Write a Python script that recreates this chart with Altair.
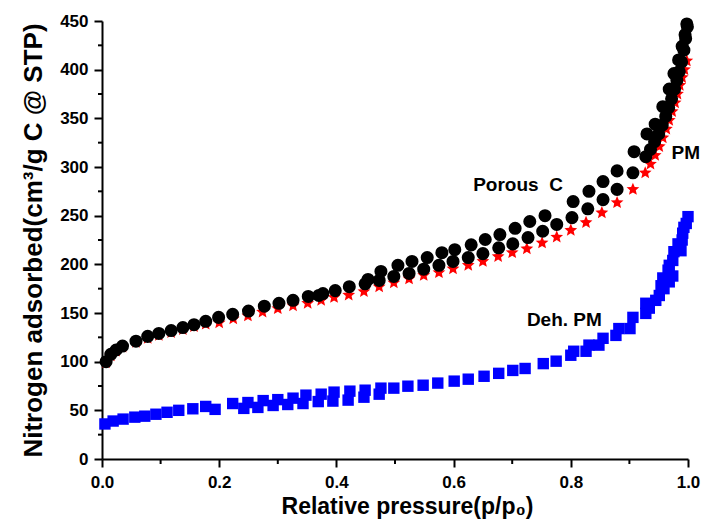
import altair as alt
import pandas as pd

# ---- Porous C (black circles): adsorption + desorption branches ----
porous_x = [0.007, 0.015, 0.024, 0.035, 0.058, 0.078, 0.097, 0.118, 0.138, 0.157,
            0.177, 0.199, 0.223, 0.250, 0.277, 0.302, 0.326, 0.352, 0.370, 0.377,
            0.398, 0.422, 0.449, 0.473, 0.498, 0.524, 0.549, 0.575, 0.599, 0.625,
            0.650, 0.677, 0.701, 0.727, 0.752, 0.776, 0.802, 0.829, 0.855, 0.879,
            0.906, 0.928, 0.936, 0.943, 0.950, 0.956, 0.962, 0.967, 0.972, 0.977,
            0.981, 0.985, 0.989, 0.993, 0.996, 0.999,
            0.454, 0.476, 0.505, 0.529, 0.555, 0.580, 0.602, 0.630, 0.654, 0.679,
            0.705, 0.730, 0.756, 0.804, 0.831, 0.855, 0.879, 0.908, 0.930, 0.944,
            0.957, 0.968, 0.976, 0.984, 0.990, 0.995, 0.998]
porous_y = [100, 107.6, 112, 116, 121, 126, 129, 132, 135, 138,
            141.5, 145.5, 148.6, 152, 157, 160, 163, 167, 168, 170,
            173, 177, 180, 183.5, 187.6, 190.6, 195, 199, 203, 207,
            211, 217, 221, 227.5, 234, 241, 248, 257, 266.5, 277,
            294, 310.6, 318, 326, 334, 343, 352, 361, 370, 380,
            389, 398, 408, 420, 432, 444,
            184.5, 192.7, 199, 203, 207, 212, 215, 220, 225.5, 230.6,
            237, 244, 250, 264.5, 275, 285, 296, 315.7, 334, 344,
            362, 380, 396, 410, 424, 436, 447]

# ---- PM (red stars) ----
pm_x = [0.007, 0.015, 0.024, 0.035, 0.058, 0.078, 0.097, 0.118, 0.138, 0.157,
        0.177, 0.200, 0.224, 0.249, 0.274, 0.300, 0.326, 0.351, 0.374, 0.396,
        0.421, 0.447, 0.473, 0.498, 0.524, 0.549, 0.575, 0.599, 0.625, 0.650,
        0.676, 0.700, 0.725, 0.751, 0.776, 0.800, 0.826, 0.853, 0.879, 0.906,
        0.927, 0.936, 0.944, 0.951, 0.957, 0.963, 0.968, 0.973, 0.978, 0.982,
        0.986, 0.990, 0.994, 0.998]
pm_y = [99, 106, 111, 115, 120, 124, 127, 130, 133, 136,
        138.5, 140, 144, 147, 151, 154.5, 157.5, 160, 163, 166,
        168.5, 172, 177, 181, 185, 188.6, 191.5, 195.5, 199, 203,
        208, 212, 216, 222, 228, 235, 243, 253, 263.4, 277,
        294, 303, 312, 321, 330, 339, 348, 357, 366, 375,
        384, 392, 400, 409]

# ---- Deh. PM (blue squares) ----
deh_x = [0.005, 0.019, 0.036, 0.056, 0.073, 0.092, 0.111, 0.131, 0.155, 0.177,
         0.193, 0.223, 0.242, 0.249, 0.266, 0.275, 0.292, 0.300, 0.317, 0.326,
         0.343, 0.348, 0.369, 0.374, 0.394, 0.396, 0.420, 0.423, 0.447, 0.449,
         0.473, 0.476, 0.498, 0.522, 0.548, 0.573, 0.601, 0.625, 0.652, 0.677,
         0.701, 0.722, 0.753, 0.775, 0.800, 0.805, 0.826, 0.831, 0.848, 0.855,
         0.877, 0.882, 0.901, 0.906, 0.928, 0.928, 0.934, 0.945, 0.951, 0.954,
         0.957, 0.959, 0.966, 0.968, 0.968, 0.974, 0.974, 0.976, 0.983, 0.988,
         0.990, 0.991, 0.993, 0.997, 1.000]
deh_y = [36, 39, 41, 43, 44, 46, 48, 50, 51.6, 54,
         51, 57, 52, 58, 53, 60, 55, 61, 56, 62.5,
         57, 65.6, 59, 66.6, 59.5, 68.7, 60.5, 69.7, 63.5, 70.7,
         66.6, 72.8, 72.8, 74.8, 75.8, 78, 80, 82, 85, 88,
         91, 93, 98, 100.5, 106.6, 110.7, 110.7, 117, 117, 124,
         127, 134, 134, 145.5, 149.6, 160, 155, 163, 168, 178,
         186, 175, 194, 182, 199, 188, 204, 213, 221, 214,
         225, 232, 238, 242, 249]

# ---- axis ticks ----
x_major = [0.0, 0.2, 0.4, 0.6, 0.8, 1.0]
x_minor = [0.1, 0.3, 0.5, 0.7, 0.9]
y_major = [0, 50, 100, 150, 200, 250, 300, 350, 400, 450]
y_minor = [25, 75, 125, 175, 225, 275, 325, 375, 425]

# ---- annotation labels ----
label_text = ["Porous\u00a0 C", "Deh. PM", "PM"]
label_x = [0.710, 0.789, 0.972]
label_y = [281, 142.5, 314]
label_align = ["center", "center", "left"]

FONT = "Liberation Sans"
W, H = 586, 438
STAR = ("M0,-1L0.2645,-0.364L0.9511,-0.309L0.428,0.139L0.5878,0.809L0,0.45"
        "L-0.5878,0.809L-0.428,0.139L-0.9511,-0.309L-0.2645,-0.364Z")

df_porous = pd.DataFrame({"x": porous_x, "y": porous_y})
df_pm = pd.DataFrame({"x": pm_x, "y": pm_y})
df_deh = pd.DataFrame({"x": deh_x, "y": deh_y})
df_lab = pd.DataFrame({"x": label_x, "y": label_y, "t": label_text, "a": label_align})
df_xminor = pd.DataFrame({"x": x_minor})
df_yminor = pd.DataFrame({"y": y_minor})

x_scale = alt.Scale(domain=[0, 1], nice=False, zero=False)
y_scale = alt.Scale(domain=[0, 450], nice=False, zero=False)

x_axis = alt.Axis(
    title="Relative pressure(p/p\u2080)", orient="bottom",
    values=x_major, format=".1f", tickSize=8,
    labelFlush=False, labelOverlap=False, grid=False,
    domainColor="black", domainWidth=2, tickColor="black", tickWidth=2,
    labelFont=FONT, labelFontSize=17, labelFontWeight="bold", labelColor="black",
    labelPadding=7,
    titleFont=FONT, titleFontSize=23, titleFontWeight="bold", titleColor="black",
    titlePadding=5, titleX=W / 2 + 12,
)
y_axis = alt.Axis(
    title="Nitrogen adsorbed(cm\u00b3/g C @ STP)", orient="left",
    values=y_major, tickSize=8,
    labelFlush=False, labelOverlap=False, grid=False,
    domainColor="black", domainWidth=2, tickColor="black", tickWidth=2,
    labelFont=FONT, labelFontSize=17, labelFontWeight="bold", labelColor="black",
    labelPadding=6,
    titleFont=FONT, titleFontSize=26, titleFontWeight="bold", titleColor="black",
    titlePadding=13,
)

pm = alt.Chart(df_pm).mark_point(
    shape=STAR, filled=True, color="#ff0000", size=180, opacity=1
).encode(
    x=alt.X("x:Q", scale=x_scale, axis=x_axis),
    y=alt.Y("y:Q", scale=y_scale, axis=y_axis),
)

porous = alt.Chart(df_porous).mark_point(
    shape="circle", filled=True, color="#000000", size=170, opacity=1
).encode(
    x=alt.X("x:Q", scale=x_scale),
    y=alt.Y("y:Q", scale=y_scale),
)

deh = alt.Chart(df_deh).mark_point(
    shape="square", filled=True, color="#0000ff", size=130, opacity=1
).encode(
    x=alt.X("x:Q", scale=x_scale),
    y=alt.Y("y:Q", scale=y_scale),
)

xminor = alt.Chart(df_xminor).mark_rule(color="black", strokeWidth=2).encode(
    x=alt.X("x:Q", scale=x_scale),
    y=alt.value(H), y2=alt.value(H + 5),
)
yminor = alt.Chart(df_yminor).mark_rule(color="black", strokeWidth=2).encode(
    y=alt.Y("y:Q", scale=y_scale),
    x=alt.value(-4), x2=alt.value(0),
)

labels_c = alt.Chart(df_lab[df_lab["a"] == "center"]).mark_text(
    font=FONT, fontSize=19, fontWeight="bold", color="black", align="center", baseline="middle"
).encode(
    x=alt.X("x:Q", scale=x_scale), y=alt.Y("y:Q", scale=y_scale), text="t:N"
)
labels_l = alt.Chart(df_lab[df_lab["a"] == "left"]).mark_text(
    font=FONT, fontSize=19, fontWeight="bold", color="black", align="left", baseline="middle"
).encode(
    x=alt.X("x:Q", scale=x_scale), y=alt.Y("y:Q", scale=y_scale), text="t:N"
)

chart = alt.layer(pm, porous, deh, xminor, yminor, labels_c, labels_l).properties(
    width=W, height=H,
    background="white",
    autosize=alt.AutoSizeParams(type="none"),
    padding={"left": 94, "top": 13, "right": 13, "bottom": 61},
).configure_view(stroke=None)

chart.save("out.html", embed_options={"renderer": "svg", "actions": False})
